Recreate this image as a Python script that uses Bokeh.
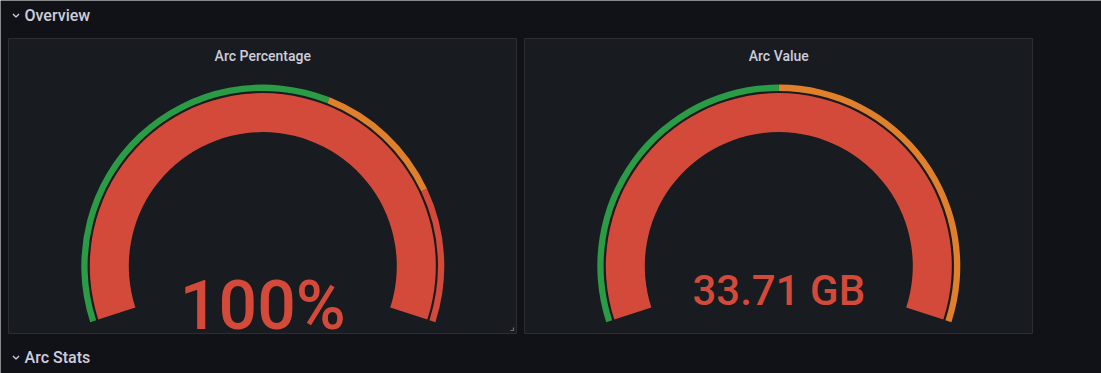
import math
from bokeh.plotting import figure
from bokeh.models import ColumnDataSource
from bokeh.core.properties import value
from bokeh.embed import file_html
from bokeh.resources import INLINE

W, H = 1101, 373

# ---- data ----
titles = ["Arc Percentage", "Arc Value"]
gauge_values = [100.0, 33.71]
gauge_min = [0.0, 0.0]
gauge_max = [100.0, 33.71]
value_labels = ["100%", "33.71 GB"]
threshold_steps = [[0.0, 60.0, 80.0], [0.0, 16.86]]
threshold_colors = [["#2a9c46", "#e0802c", "#d44a3a"], ["#2a9c46", "#e0802c"]]
value_color = "#d44a3a"
row_titles = ["Overview", "Arc Stats"]

# ---- layout / style ----
BG = "#111217"
PANEL_BG = "#181b1f"
PANEL_BORDER = "#2a2d33"
TEXT = "#ccccdc"
MED = value("Roboto Medium")
panels_x = [(8, 516), (524, 1032)]
panel_top, panel_bottom = 38, 333
gauge_cy = 265.6
R_RING_OUT, R_RING_IN = 181.5, 175.2
R_BAND_OUT, R_BAND_IN = 173.0, 134.0
START_DEG, SWEEP_DEG = 198.0, 216.0
value_font_sizes = ["68px", "42px"]
value_baselines = [305, 290]

p = figure(width=W, height=H, x_range=(0, W), y_range=(0, H),
           x_axis_location=None, y_axis_location=None,
           output_backend="svg", toolbar_location=None,
           min_border=0, background_fill_color=BG, border_fill_color=BG,
           outline_line_color=None)
p.grid.visible = False


def Y(py):
    return H - py


def ang(v, mn, mx):
    f = (v - mn) / (mx - mn)
    f = max(0.0, min(1.0, f))
    return math.radians(START_DEG - SWEEP_DEG * f)


# panels
p.quad(left=[a for a, b in panels_x], right=[b for a, b in panels_x],
       top=[Y(panel_top)] * 2, bottom=[Y(panel_bottom)] * 2,
       fill_color=PANEL_BG, line_color=PANEL_BORDER, line_width=1)

# row headers
for i, (t, py) in enumerate(zip(row_titles, [15, 357])):
    p.text(x=[24], y=[Y(py)], text=[t], text_font=MED,
           text_font_size="16px", text_font_style="normal", text_color=TEXT,
           text_baseline="middle", text_align="left")
    # chevron (down)
    p.line(x=[12.5, 15.5, 18.5], y=[Y(py - 1.5), Y(py + 1.5), Y(py - 1.5)],
           line_color=TEXT, line_width=1.4)

# resize handle on first panel
p.line(x=[510, 513, 513], y=[Y(330), Y(330), Y(327)], line_color="#6e6f78", line_width=1.2)

for i in range(2):
    cx = (panels_x[i][0] + panels_x[i][1]) / 2.0 + 0.3
    cy = Y(gauge_cy)
    mn, mx = gauge_min[i], gauge_max[i]
    # title
    p.text(x=[cx], y=[Y(55)], text=[titles[i]], text_font=MED,
           text_font_size="14px", text_font_style="normal", text_color=TEXT,
           text_align="center", text_baseline="middle")
    # threshold ring
    steps = threshold_steps[i]
    bounds = steps[1:] + [mx]
    starts, ends, cols = [], [], []
    for s, e, c in zip(steps, bounds, threshold_colors[i]):
        s = max(s, mn)
        e = min(e, mx)
        if e <= s:
            continue
        starts.append(ang(e, mn, mx))
        ends.append(ang(s, mn, mx))
        cols.append(c)
    src = ColumnDataSource(dict(x=[cx] * len(cols), y=[cy] * len(cols),
                                start=starts, end=ends, color=cols))
    p.annular_wedge(x="x", y="y", inner_radius=R_RING_IN, outer_radius=R_RING_OUT,
                    inner_radius_units="screen", outer_radius_units="screen",
                    start_angle="start", end_angle="end", fill_color="color",
                    line_color=None, source=src)
    # value band
    p.annular_wedge(x=[cx], y=[cy], inner_radius=R_BAND_IN, outer_radius=R_BAND_OUT,
                    inner_radius_units="screen", outer_radius_units="screen",
                    start_angle=ang(gauge_values[i], mn, mx), end_angle=ang(mn, mn, mx),
                    fill_color=value_color, line_color=None)
    # value text
    p.text(x=[cx], y=[Y(value_baselines[i])], text=[value_labels[i]],
           text_font=MED, text_font_size=value_font_sizes[i],
           text_font_style="normal", text_color=value_color,
           text_align="center", text_baseline="alphabetic")

open("out.html", "w").write(file_html(p, INLINE))
